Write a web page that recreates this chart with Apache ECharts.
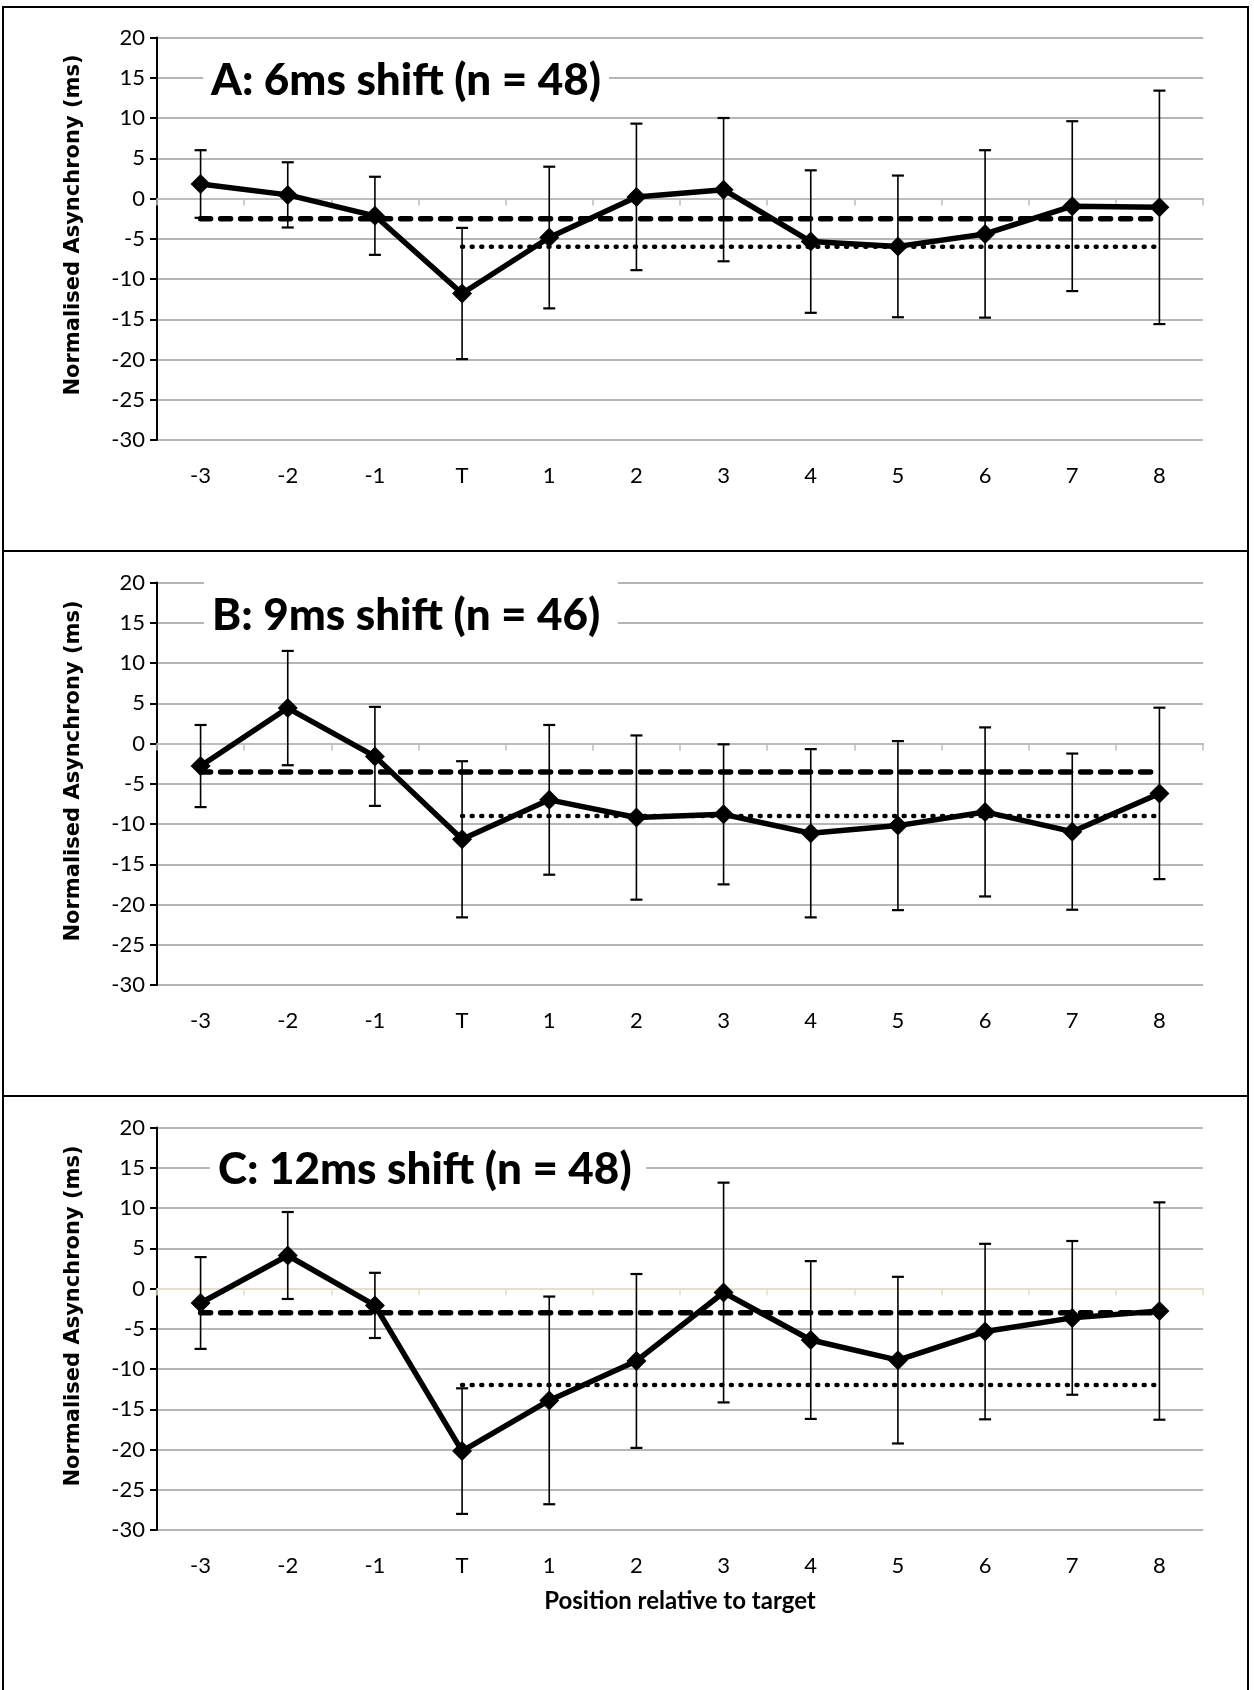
<!DOCTYPE html>
<html><head><meta charset="utf-8">
<script src="https://cdn.jsdelivr.net/npm/echarts@6/dist/echarts.min.js"></script>
<style>html,body{margin:0;padding:0;background:#fff}#c{width:1254px;height:1690px}</style>
</head><body><div id="c"></div>
<script>
// ---- data ----
const categories = ['-3','-2','-1','T','1','2','3','4','5','6','7','8'];
const panelTitles = ['A: 6ms shift (n = 48)', 'B: 9ms shift (n = 46)', 'C: 12ms shift (n = 48)'];
const yAxisTitle = 'Normalised Asynchrony (ms)';
const xAxisTitle = 'Position relative to target';
const yMin = -30, yMax = 20, yStep = 5;

const meanA = [1.8, 0.45, -2.15, -11.8, -4.85, 0.2, 1.1, -5.35, -5.95, -4.4, -0.95, -1.1];
const errA  = [4.2, 4.05, 4.85, 8.15, 8.8, 9.1, 8.9, 8.85, 8.8, 10.4, 10.55, 14.5];
const meanB = [-2.8, 4.4, -1.6, -11.9, -7.0, -9.2, -8.8, -11.15, -10.2, -8.5, -10.95, -6.2];
const errB  = [5.1, 7.1, 6.15, 9.7, 9.3, 10.2, 8.7, 10.45, 10.5, 10.5, 9.7, 10.65];
const meanC = [-1.8, 4.1, -2.1, -20.2, -13.9, -9.0, -0.5, -6.4, -8.9, -5.35, -3.65, -2.8];
const errC  = [5.7, 5.4, 4.05, 7.8, 12.9, 10.8, 13.65, 9.8, 10.35, 10.9, 9.55, 13.5];
const dashedLevels = [-2.5, -3.55, -3.0];   // baseline mean (positions -3 .. 8)
const dottedLevels = [-6.0, -9.0, -12.0];   // post-target level (positions T .. 8)

// ---- layout ----
const GRID_TOP = [37.5, 582.5, 1127.5];
const GRID_H = 402.5, GRID_L = 157, GRID_W = 1046;
const zeroColors = ['#bdbdbd', '#bdbdbd', '#e4e0cc'];
const means = [meanA, meanB, meanC];
const errs = [errA, errB, errC];

const grid = [], xAxis = [], yAxis = [], series = [];
for (let i = 0; i < 3; i++) {
  grid.push({left: GRID_L, top: GRID_TOP[i], width: GRID_W, height: GRID_H});
  xAxis.push({gridIndex: i, type: 'category', data: categories, boundaryGap: true, position: 'bottom',
    axisLine: {show: true, onZero: true, lineStyle: {color: zeroColors[i], width: 2}},
    axisTick: {show: true, length: 7, interval: 0, lineStyle: {color: zeroColors[i], width: 1.5}},
    axisLabel: {show: false}, splitLine: {show: false}});
  xAxis.push({gridIndex: i, type: 'category', data: categories, boundaryGap: true, position: 'bottom',
    axisLine: {show: false, onZero: false}, axisTick: {show: false},
    axisLabel: {show: true, interval: 0, margin: 25, color: '#000', fontFamily: 'Lato', fontSize: 22},
    splitLine: {show: false}});
  yAxis.push({gridIndex: i, type: 'value', min: yMin, max: yMax, interval: yStep,
    axisLine: {show: true, onZero: false, lineStyle: {color: '#000', width: 2}},
    axisTick: {show: true, length: 7, lineStyle: {color: '#000', width: 2}},
    axisLabel: {margin: 12, color: '#000', fontFamily: 'Lato', fontSize: 22},
    splitLine: {show: true, lineStyle: {color: '#9e9e9e', width: 1.5}}});

  const m = means[i], e = errs[i];
  series.push({type: 'custom', xAxisIndex: 2 * i, yAxisIndex: i, z: 3,
    encode: {x: 0, y: [1, 2]},
    data: categories.map((c, k) => [k, m[k] - e[k], m[k] + e[k]]),
    renderItem: function (params, api) {
      const lo = api.coord([api.value(0), api.value(1)]);
      const hi = api.coord([api.value(0), api.value(2)]);
      const cw = 6;
      return {type: 'group', children: [
        {type: 'line', shape: {x1: lo[0], y1: lo[1], x2: hi[0], y2: hi[1]}, style: {stroke: '#000', lineWidth: 1.6}},
        {type: 'line', shape: {x1: lo[0] - cw, y1: lo[1], x2: lo[0] + cw, y2: lo[1]}, style: {stroke: '#000', lineWidth: 2.2}},
        {type: 'line', shape: {x1: hi[0] - cw, y1: hi[1], x2: hi[0] + cw, y2: hi[1]}, style: {stroke: '#000', lineWidth: 2.2}}
      ]};
    }});
  series.push({type: 'line', xAxisIndex: 2 * i, yAxisIndex: i, z: 2, symbol: 'none',
    data: [[0, dashedLevels[i]], [categories.length - 1, dashedLevels[i]]],
    lineStyle: {color: '#000', width: 5.5, type: [10, 10], cap: 'round'}});
  series.push({type: 'line', xAxisIndex: 2 * i, yAxisIndex: i, z: 2, symbol: 'none',
    data: [[3, dottedLevels[i]], [categories.length - 1, dottedLevels[i]]],
    lineStyle: {color: '#000', width: 4.5, type: [1, 8.6], cap: 'round'}});
  series.push({type: 'line', xAxisIndex: 2 * i, yAxisIndex: i, z: 5,
    data: m, symbol: 'diamond', symbolSize: 20,
    lineStyle: {color: '#000', width: 5.5}, itemStyle: {color: '#000'}});
}

// ---- decorations ----
const titleBoxes = [[203, 50, 406, 60], [204, 576, 414, 72], [210, 1140, 436, 60]];
const titlePos = [[211, 81], [212, 616], [218, 1170]];
const yTitleCenter = [225, 771, 1316];
const graphic = [];
const borders = [[3, 7, 1245, 544], [3, 551, 1245, 545], [3, 1096, 1245, 700]];
borders.forEach(b => graphic.push({type: 'rect', z: 10, shape: {x: b[0], y: b[1], width: b[2], height: b[3]},
  style: {fill: 'none', stroke: '#000', lineWidth: 2}}));
for (let i = 0; i < 3; i++) {
  const tb = titleBoxes[i];
  graphic.push({type: 'rect', z: 1, shape: {x: tb[0], y: tb[1], width: tb[2], height: tb[3]}, style: {fill: '#fff'}});
  graphic.push({type: 'text', z: 6, x: titlePos[i][0], y: titlePos[i][1],
    style: {text: panelTitles[i], fill: '#000', font: '900 44px Lato', textAlign: 'left', align: 'left',
      textVerticalAlign: 'middle', verticalAlign: 'middle'}});
  graphic.push({type: 'text', z: 6, x: 74, y: yTitleCenter[i], rotation: Math.PI / 2,
    style: {text: yAxisTitle, fill: '#000', font: 'bold 21px "DejaVu Sans"', textAlign: 'center', align: 'center',
      textVerticalAlign: 'middle', verticalAlign: 'middle'}});
}
graphic.push({type: 'text', z: 6, x: 680, y: 1601,
  style: {text: xAxisTitle, fill: '#000', font: 'bold 24px Lato', textAlign: 'center', align: 'center',
    textVerticalAlign: 'middle', verticalAlign: 'middle'}});

const chart = echarts.init(document.getElementById('c'), null, {renderer: 'canvas'});
chart.setOption({animation: false, backgroundColor: '#fff', grid, xAxis, yAxis, series, graphic});
</script></body></html>
